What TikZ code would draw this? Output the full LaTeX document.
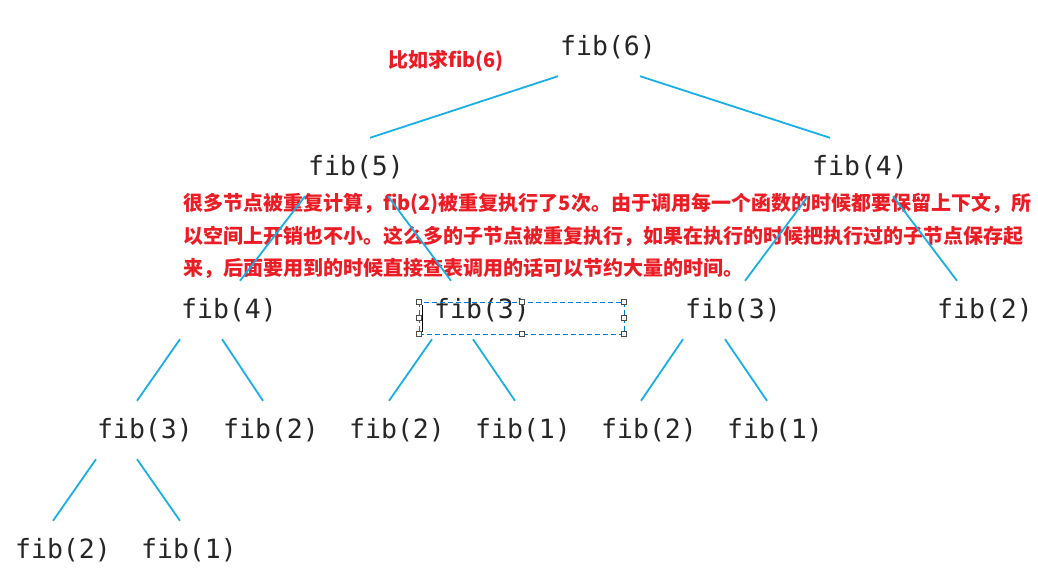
\documentclass[tikz,border=0pt]{standalone}
\usepackage{fontspec}
\newfontfamily\fibmono{DejaVu Sans Mono}
\newfontfamily\notecjk{Noto Sans CJK SC}
\definecolor{treeblue}{RGB}{25,175,230}
\definecolor{notered}{RGB}{236,28,36}
\definecolor{selblue}{RGB}{0,120,215}
\tikzset{
  fib/.style={font=\fibmono\fontsize{26.5}{30}\selectfont, text=black!85, inner sep=0pt, minimum height=58pt},
  tline/.style={treeblue, line width=1.8pt},
  note/.style={font=\notecjk\bfseries\fontsize{20}{32.5}\selectfont, text=notered, inner sep=0pt, align=left},
  handle/.style={draw=black!70, fill=white, line width=0.7pt, minimum size=5pt, inner sep=0pt}
}

\begin{document}
\begin{tikzpicture}[x=1pt,y=-1pt]
\useasboundingbox (0,0) rectangle (1038,574);

% the call tree
\node[fib] (f6) at (608,47) {fib(6)};
\node[fib] (f5) at (356,167) {fib(5)};
\node[fib] (f4b) at (860,167) {fib(4)};
\node[fib] (f4a) at (229,310) {fib(4)};
\node[fib] (f3b) at (482,310) {fib(3)};
\node[fib] (f3c) at (733,310) {fib(3)};
\node[fib] (f2a) at (985,310) {fib(2)};
\node[fib] (f3a) at (145,430) {fib(3)};
\node[fib] (f2b) at (271,430) {fib(2)};
\node[fib] (f2c) at (397,430) {fib(2)};
\node[fib] (f1a) at (523,430) {fib(1)};
\node[fib] (f2d) at (649,430) {fib(2)};
\node[fib] (f1b) at (775,430) {fib(1)};
\node[fib] (f2e) at (63,550) {fib(2)};
\node[fib] (f1c) at (189,550) {fib(1)};

% notes
\node[note, anchor=north west] (title) at (388,50) {比如求fib(6)};
\node[note, anchor=north west] (remark) at (183,193) {很多节点被重复计算，fib(2)被重复执行了5次。由于调用每一个函数的时候都要保留上下文，所\\
以空间上开销也不小。这么多的子节点被重复执行，如果在执行的时候把执行过的子节点保存起\\
来，后面要用到的时候直接查表调用的话可以节约大量的时间。};

% edges
\draw[tline] ([xshift=-50pt]f6.south) -- ([xshift=14pt]f5.north);
\draw[tline] ([xshift=32pt]f6.south) -- ([xshift=-30pt]f4b.north);
\draw[tline] ([xshift=-51pt]f5.south) -- ([xshift=11pt]f4a.north);
\draw[tline] ([xshift=32pt]f5.south) -- ([xshift=-31pt]f3b.north);
\draw[tline] ([xshift=-52pt]f4b.south) -- ([xshift=12pt]f3c.north);
\draw[tline] ([xshift=33pt]f4b.south) -- ([xshift=-28pt]f2a.north);
\draw[tline] ([xshift=-49pt]f4a.south) -- ([xshift=-8pt]f3a.north);
\draw[tline] ([xshift=-7pt]f4a.south) -- ([xshift=-8pt]f2b.north);
\draw[tline] ([xshift=-50pt]f3b.south) -- ([xshift=-8pt]f2c.north);
\draw[tline] ([xshift=-9pt]f3b.south) -- ([xshift=-8pt]f1a.north);
\draw[tline] ([xshift=-50pt]f3c.south) -- ([xshift=-8pt]f2d.north);
\draw[tline] ([xshift=-8pt]f3c.south) -- ([xshift=-8pt]f1b.north);
\draw[tline] ([xshift=-49pt]f3a.south) -- ([xshift=-10pt]f2e.north);
\draw[tline] ([xshift=-8pt]f3a.south) -- ([xshift=-9pt]f1c.north);

% selection box round fib(3)
\draw[selblue, line width=0.9pt, dash pattern=on 5pt off 3pt] (419,302) rectangle (624,334);
\draw[black, line width=1pt] (422,305) -- (422,332);
\foreach \hx/\hy [count=\i] in {419/302,522/302,624/302,419/318,624/318,419/334,522/334,624/334}
  \node[handle] (h\i) at (\hx,\hy) {};

\end{tikzpicture}
\end{document}
